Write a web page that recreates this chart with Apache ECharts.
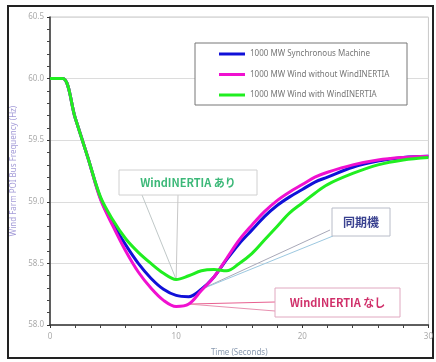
<!DOCTYPE html>
<html>
<head>
<meta charset="utf-8">
<script src="https://cdn.jsdelivr.net/npm/echarts@6/dist/echarts.min.js"></script>
<style>
html,body{margin:0;padding:0;background:#fff;}
#c{width:436px;height:362px;}
</style>
</head>
<body>
<div id="c"></div>
<script>
// ---- data ----
const time = [0, 1, 2, 3, 4, 5, 6, 7, 8, 9, 10, 11, 12, 13, 14, 15, 16, 17, 18, 19, 20, 21, 22, 24, 26, 28, 30];
const syncMachine = [60.0, 60.0, 59.68, 59.36, 59.03, 58.82, 58.65, 58.50, 58.38, 58.29, 58.24, 58.23, 58.29, 58.39, 58.53, 58.66, 58.77, 58.88, 58.97, 59.04, 59.10, 59.16, 59.20, 59.28, 59.33, 59.36, 59.37];
const windNoInertia = [60.0, 60.0, 59.68, 59.36, 59.02, 58.80, 58.60, 58.43, 58.30, 58.20, 58.15, 58.17, 58.28, 58.39, 58.54, 58.69, 58.81, 58.92, 59.01, 59.08, 59.14, 59.20, 59.24, 59.30, 59.34, 59.36, 59.37];
const windWithInertia = [60.0, 60.0, 59.68, 59.36, 59.04, 58.85, 58.70, 58.59, 58.50, 58.42, 58.37, 58.40, 58.44, 58.45, 58.44, 58.50, 58.58, 58.69, 58.80, 58.91, 58.99, 59.07, 59.14, 59.23, 59.30, 59.34, 59.36];
const seriesNames = ['1000 MW Synchronous Machine', '1000 MW Wind without WindINERTIA', '1000 MW Wind with WindINERTIA'];
const yTicks = [58.0, 58.5, 59.0, 59.5, 60.0, 60.5];
const xTicks = [0, 10, 20, 30];

const chart = echarts.init(document.getElementById('c'), null, {renderer: 'canvas'});
const pairs = arr => time.map((t, i) => [t, arr[i]]);
const font = 'Noto Sans, DejaVu Sans, sans-serif';
const colors = ['#1010d8', '#f010d0', '#20ee20'];

chart.setOption({
  animation: false,
  backgroundColor: '#fff',
  textStyle: {fontFamily: font},
  grid: {left: 50, right: 7, top: 17, bottom: 37, show: true, borderColor: '#c8c8c8', borderWidth: 1},
  legend: {
    orient: 'vertical', left: 214, top: 44, itemWidth: 26, itemHeight: 3, itemGap: 10.5,
    icon: 'rect',
    data: seriesNames.map((n, i) => ({name: n, itemStyle: {color: colors[i]}})),
    textStyle: {fontSize: 8, color: '#777', fontFamily: font, lineHeight: 10},
    itemStyle: {borderWidth: 0},
    z: 6
  },
  xAxis: {
    type: 'value', min: xTicks[0], max: xTicks[xTicks.length - 1], interval: 10,
    name: 'Time (Seconds)', nameLocation: 'middle', nameGap: 24,
    nameTextStyle: {fontSize: 8, color: '#8a9ab0'},
    axisLine: {lineStyle: {color: '#333', width: 1.5}},
    axisTick: {length: 3, lineStyle: {color: '#333'}},
    minorTick: {show: true, splitNumber: 5, length: 3, lineStyle: {color: '#444'}},
    axisLabel: {fontSize: 8, color: '#aaa', margin: 8},
    splitLine: {show: false}
  },
  yAxis: {
    type: 'value', min: yTicks[0], max: yTicks[yTicks.length - 1], interval: 0.5,
    name: 'Wind Farm POI Bus Frequency (Hz)', nameLocation: 'middle', nameGap: 28,
    nameTextStyle: {fontSize: 8, color: '#a49cd8'},
    axisLine: {lineStyle: {color: '#333', width: 1.5}},
    axisTick: {length: 3, lineStyle: {color: '#333'}},
    minorTick: {show: true, splitNumber: 5, length: 3, lineStyle: {color: '#444'}},
    axisLabel: {fontSize: 8, color: '#aaa', margin: 6, formatter: v => v.toFixed(1)},
    splitLine: {show: true, lineStyle: {color: '#dcdcdc', width: 1}}
  },
  series: [0, 1, 2].map(i => ({
    name: seriesNames[i], type: 'line',
    data: pairs([syncMachine, windNoInertia, windWithInertia][i]),
    showSymbol: false, smooth: 0.35,
    lineStyle: {color: colors[i], width: 3}, itemStyle: {color: colors[i]}, z: 3 + (i === 2 ? 1 : 0)
  }))
});

// annotation targets from data points
const px = (t, arr) => chart.convertToPixel({gridIndex: 0}, [t, arr[time.indexOf(t)]]);
const gMin = px(10, windWithInertia);
const bPt = px(12, syncMachine);
const mPt = px(11, windNoInertia);

function box(x, y, w, h, stroke, text, color, size, fam) {
  return [
    {type: 'rect', z: 8, shape: {x: x, y: y, width: w, height: h}, style: {fill: '#fff', stroke: stroke, lineWidth: 1}},
    {type: 'text', z: 9, style: {x: x + w / 2, y: y + h / 2, text: text, fill: color, fontSize: size, fontWeight: 'bold', fontFamily: fam, align: 'center', verticalAlign: 'middle'}}
  ];
}
function line(x1, y1, p, color) {
  return {type: 'line', z: 1, shape: {x1: x1, y1: y1, x2: p[0], y2: p[1]}, style: {stroke: color, lineWidth: 1}};
}
const cjk = 'Noto Sans CJK JP, Noto Sans, sans-serif';

chart.setOption({
  graphic: [
    {type: 'rect', z: 0, silent: true, shape: {x: 8, y: 6, width: 425, height: 352}, style: {fill: 'none', stroke: '#222', lineWidth: 2}},
    {type: 'rect', z: 5, shape: {x: 195, y: 43, width: 212, height: 62}, style: {fill: '#fff', stroke: '#777', lineWidth: 1}},
    line(142, 195, gMin, '#c0c8c8'),
    line(178, 195, gMin, '#c8c8c8'),
    line(330, 230, bPt, '#a8a8b8'),
    line(333, 236, bPt, '#9cc8e0'),
    line(275, 302, mPt, '#e86090'),
    line(275, 311, mPt, '#e890b0'),
    ...box(119, 170, 138, 25, '#d0d0d0', 'WindINERTIA あり', '#3cb878', 11, cjk),
    ...box(332, 208, 58, 28, '#b8bcc8', '同期機', '#3a4290', 12, cjk),
    ...box(275, 288, 125, 29, '#e0a8c0', 'WindINERTIA なし', '#d0306a', 11, cjk)
  ]
});
</script>
</body>
</html>
